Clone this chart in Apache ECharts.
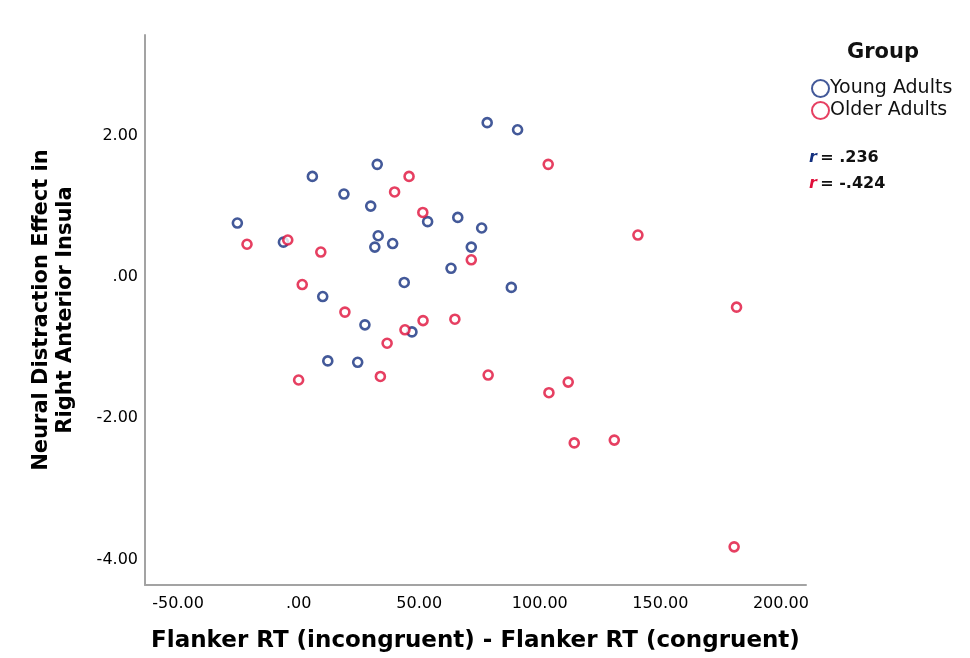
<!DOCTYPE html>
<html>
<head>
<meta charset="utf-8">
<script src="https://cdn.jsdelivr.net/npm/echarts@6/dist/echarts.min.js"></script>
<style>
  html, body { margin: 0; padding: 0; background: #fff; }
  #chart { width: 970px; height: 658px; }
</style>
</head>
<body>
<div id="chart"></div>
<script>
// Young adults: [flanker RT diff, neural distraction effect]
const youngAdults = [
  [-25.4, 0.76], [-6.3, 0.49], [5.7, 1.42], [10.0, -0.28], [12.1, -1.19],
  [18.8, 1.17], [24.5, -1.21], [27.5, -0.68], [29.9, 1.00], [32.6, 1.59],
  [33.0, 0.58], [31.6, 0.42], [39.0, 0.47], [43.8, -0.08], [47.0, -0.78],
  [53.5, 0.78], [63.2, 0.12], [66.0, 0.84], [71.6, 0.42], [75.9, 0.69],
  [78.2, 2.18], [88.2, -0.15], [90.8, 2.08]
]
// Older adults
const olderAdults = [
  [-21.4, 0.46], [-4.5, 0.52], [1.5, -0.11], [0.0, -1.46], [9.2, 0.35],
  [19.2, -0.50], [33.9, -1.41], [36.7, -0.94], [39.8, 1.20], [44.1, -0.75],
  [45.8, 1.42], [51.6, -0.62], [51.5, 0.91], [64.8, -0.60], [71.6, 0.24],
  [78.6, -1.39], [103.5, 1.59], [103.8, -1.64], [111.8, -1.49], [114.3, -2.35],
  [130.9, -2.31], [140.7, 0.59], [181.6, -0.43], [180.6, -3.82]
]
const xTicks = [-50, 0, 50, 100, 150, 200]
const yTicks = [-4, -2, 0, 2]
const groupNames = ['Young Adults', 'Older Adults']
const rValues = ['.236', '-.424']

const BLUE = '#14307f'
const RED = '#e00f3a'
const FONT = 'DejaVu Sans, Liberation Sans, Arial, sans-serif'

// SPSS style: 0 -> ".00"
const fmt = (v) => {
  let s = Number(v).toFixed(2)
  return s.replace(/^(-?)0\./, '$1.')
}

const chart = echarts.init(document.getElementById('chart'))

const option = {
  animation: false,
  backgroundColor: '#fff',
  grid: { left: 145, right: 164, top: 35, bottom: 71 },
  xAxis: {
    type: 'value',
    min: -63.7,
    max: 210.4,
    name: 'Flanker RT (incongruent) - Flanker RT (congruent)',
    nameLocation: 'middle',
    nameGap: 45,
    nameTextStyle: { fontFamily: FONT, fontSize: 23, fontWeight: 'bold', color: '#000' },
    axisLine: { show: true, onZero: false, lineStyle: { color: '#a3a3a3', width: 2 } },
    axisTick: { show: false },
    splitLine: { show: false },
    axisLabel: {
      customValues: xTicks,
      formatter: fmt,
      margin: 11,
      fontFamily: FONT,
      fontSize: 16,
      color: '#000'
    }
  },
  yAxis: {
    type: 'value',
    min: -4.36,
    max: 3.42,
    name: 'Neural Distraction Effect in\nRight Anterior Insula',
    nameLocation: 'middle',
    nameGap: 67,
    nameTextStyle: { fontFamily: FONT, fontSize: 21, fontWeight: 'bold', color: '#000', lineHeight: 24 },
    axisLine: { show: true, onZero: false, lineStyle: { color: '#a3a3a3', width: 2 } },
    axisTick: { show: false },
    splitLine: { show: false },
    axisLabel: {
      customValues: yTicks,
      formatter: fmt,
      margin: 7,
      fontFamily: FONT,
      fontSize: 16,
      color: '#000'
    }
  },
  legend: {
    orient: 'vertical',
    left: 806,
    top: 74,
    itemWidth: 17,
    itemHeight: 17,
    itemGap: 3,
    icon: 'circle',
    data: groupNames,
    itemStyle: { borderWidth: 2 },
    textStyle: { fontFamily: FONT, fontSize: 19, color: '#111', padding: [0, 0, 0, -4] }
  },
  graphic: [
    {
      type: 'text',
      left: 847,
      top: 42,
      style: { text: 'Group', font: 'bold 21px ' + FONT, fill: '#111' }
    },
    {
      type: 'text',
      left: 809,
      top: 150,
      style: {
        text: '{b|r} {k|= ' + rValues[0] + '}',
        rich: {
          b: { font: 'italic bold 16px ' + FONT, fill: BLUE },
          k: { font: 'bold 16px ' + FONT, fill: '#111' }
        }
      }
    },
    {
      type: 'text',
      left: 809,
      top: 176,
      style: {
        text: '{r|r} {k|= ' + rValues[1] + '}',
        rich: {
          r: { font: 'italic bold 16px ' + FONT, fill: RED },
          k: { font: 'bold 16px ' + FONT, fill: '#111' }
        }
      }
    }
  ],
  series: [
    {
      name: groupNames[0],
      type: 'scatter',
      symbol: 'circle',
      symbolSize: 9,
      data: youngAdults,
      itemStyle: { color: '#fff', borderColor: BLUE, borderWidth: 2.6 }
    },
    {
      name: groupNames[1],
      type: 'scatter',
      symbol: 'circle',
      symbolSize: 9,
      data: olderAdults,
      itemStyle: { color: '#fff', borderColor: RED, borderWidth: 2.6 }
    }
  ]
}

chart.setOption(option)
window.addEventListener('resize', () => chart.resize())
</script>
</body>
</html>
